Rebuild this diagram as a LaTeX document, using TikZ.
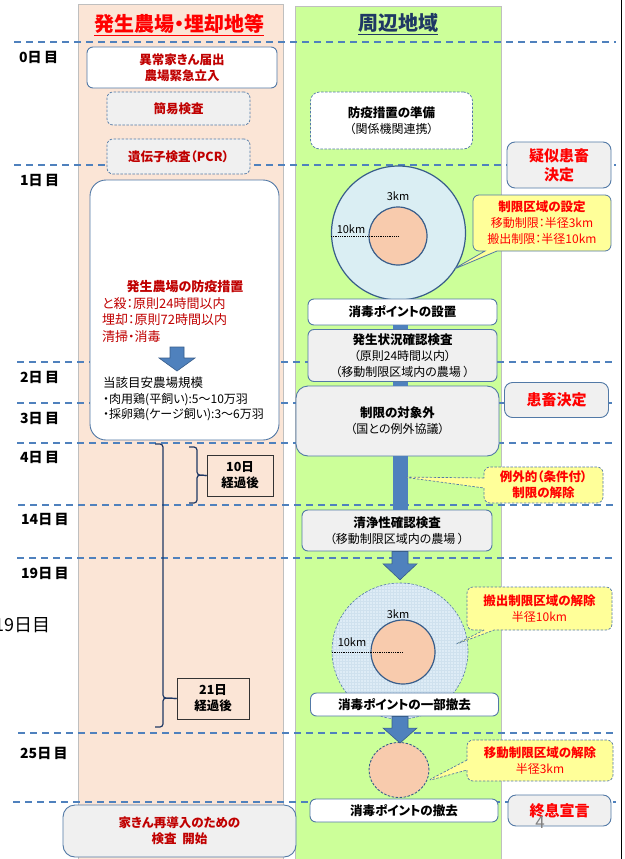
\documentclass[tikz,border=0pt]{standalone}
\usepackage{fontspec}
\setmainfont{Noto Sans CJK JP}[RawFeature={+palt}]
\usetikzlibrary{shapes.callouts,shapes.geometric,patterns,calc}
\definecolor{peach}{HTML}{FBE5D6}
\definecolor{lgreen}{HTML}{CCFF99}
\definecolor{dblue}{HTML}{4F81BD}
\definecolor{bordc}{HTML}{5279A6}
\definecolor{grayfill}{HTML}{F0F0F0}
\definecolor{redA}{HTML}{C00000}
\definecolor{redB}{HTML}{FF0000}
\definecolor{yel}{HTML}{FFFF99}
\definecolor{lblue}{HTML}{DAEEF3}
\definecolor{lblueB}{HTML}{DEECF6}
\definecolor{gridc}{HTML}{CFE1EE}
\definecolor{orng}{HTML}{F8CBAD}
\definecolor{navy}{HTML}{1F3864}
\definecolor{circb}{HTML}{385D8A}
\definecolor{colb}{HTML}{BFBFBF}
\newcommand\fsz[1]{\fontsize{#1}{16}\selectfont}
\begin{document}
\begin{tikzpicture}[x=1pt,y=-1pt,
  every node/.style={font=\fsz{12}},
  box/.style={draw=bordc,line width=0.9pt,rounded corners=6pt,inner sep=0pt,align=center},
  wbox/.style={box,fill=white},
  gbox/.style={box,fill=grayfill},
  dbox/.style={dash pattern=on 2.5pt off 1.5pt,line width=0.7pt},
  bt/.style={font=\bfseries\fsz{12.5}},
  status/.style={gbox,rounded corners=8pt,text=redB,font=\bfseries\fsz{15}},
  dayl/.style={anchor=west,inner sep=0pt,font=\bfseries\fsz{14}},
  dayline/.style={draw=dblue,line width=2pt,dash pattern=on 7pt off 5pt},
  bar/.style={draw=dblue,line width=15pt},
  fatarrow/.style={fill=dblue,draw=circb,line width=0.6pt},
  call/.style={rectangle callout,fill=yel,draw=bordc,line width=0.8pt,rounded corners=6pt,
    inner sep=0pt,align=center,text=redB,callout pointer width=12pt},
  brace/.style={draw=navy,line width=1.2pt,rounded corners=3pt},
  dayb/.style={draw=black!80,line width=0.8pt,fill=peach,inner sep=0pt,align=center,font=\bfseries\fsz{12.5}},
  ltxt/.style={anchor=west,inner sep=0pt}
]
\useasboundingbox (0,0) rectangle (624,859);
\fill[white] (0,0) rectangle (624,859);
% columns
\draw[colb,fill=peach,line width=0.8pt] (78,4) rectangle (283,862);
\draw[colb,fill=lgreen,line width=0.8pt] (295,6) rectangle (501,862);
\draw[black,line width=1pt] (621.7,0) -- (621.7,859);
% headers
\node[text=redB,font=\bfseries\fsz{20}] (hl) at (179,25) {\underline{発生農場・埋却地等}};
\node[text=navy,font=\bfseries\fsz{20}] (hr) at (398,24) {\underline{周辺地域}};
% day lines
\foreach \yy/\xs in {42/14,165/14,362/17,403/17,443/17,505/18,558/17,733/18,802/13}
  \draw[dayline] (\xs,\yy) -- (616,\yy);
% day labels
\node[dayl] (d0) at (19,57) {0日\,目};
\node[dayl] (d1) at (20,180) {1日\,目};
\node[dayl] (d2) at (20,377) {2日\,目};
\node[dayl] (d3) at (20,418) {3日\,目};
\node[dayl] (d4) at (20,457) {4日\,目};
\node[dayl] (d14) at (21,519) {14日\,目};
\node[dayl] (d19) at (21,573) {19日\,目};
\node[dayl] (d25) at (20,753) {25日\,目};
\node[anchor=east,inner sep=0pt,font=\fsz{18}] (stray) at (51,625) {19日目};
% left column
\node[wbox,minimum width=190,minimum height=41,text=redA,font=\bfseries\fsz{12.5}] (n0) at (182,67.5) {異常家きん届出\\農場緊急立入};
\node[gbox,dbox,minimum width=143,minimum height=33,text=redA,font=\bfseries\fsz{12.5}] (kani) at (178.5,108.5) {簡易検査};
\node[gbox,dbox,minimum width=143,minimum height=35,text=redA,font=\bfseries\fsz{12.5}] (pcr) at (178.5,156.5) {遺伝子検査（PCR）};
\node[wbox,rounded corners=16pt,minimum width=189,minimum height=260] (big) at (184.5,310) {};
\node[text=redA,font=\bfseries\fsz{13}] (bt1) at (185,287) {発生農場の防疫措置};
\node[ltxt,text=redA,font=\fsz{13}] (bl1) at (102,304) {と殺：原則24時間以内};
\node[ltxt,text=redA,font=\fsz{13}] (bl2) at (102,320) {埋却：原則72時間以内};
\node[ltxt,text=redA,font=\fsz{13}] (bl3) at (102,337) {清掃・消毒};
\path[fatarrow] (170,347) -- (170,358) -- (159,358) -- (177,371) -- (195,358) -- (184,358) -- (184,347) -- cycle;
\node[ltxt,font=\fsz{12.5}] (bk1) at (103,383) {当該目安農場規模};
\node[ltxt,font=\fsz{12}] (bk2) at (103,399.5) {・肉用鶏(平飼い):5～10万羽};
\node[ltxt,font=\fsz{12}] (bk3) at (103,414.5) {・採卵鶏(ケージ飼い):3～6万羽};
\node[dayb,minimum width=66,minimum height=41] (ten) at (240,475.5) {10日\\経過後};
\node[dayb,minimum width=72,minimum height=41] (tw) at (213,698.5) {21日\\経過後};
\draw[brace] (189,447) -- (197,447) -- (197,475) -- (ten.west);
\draw[brace] (ten.west) -- (197,475) -- (197,503) -- (189,503);
\draw[brace] (155,444) -- (163,444) -- (163,698) -- (tw.west);
\draw[brace] (tw.west) -- (163,698) -- (163,727) -- (155,727);
\node[gbox,rounded corners=12pt,minimum width=233,minimum height=52,text=redA,font=\bfseries\fsz{12.5}] (re) at (179.5,831) {家きん再導入のための\\検査\ \ 開始};
% right column
\coordinate (axis) at (400,0);
\node[wbox,dbox,draw=bordc,rounded corners=9pt,minimum width=162,minimum height=57] (prep) at (391.5,120.5) {{\bfseries\fsz{12.5}防疫措置の準備}\\（関係機関連携）};
\node[circle,fill=lblue,draw=circb,line width=1.2pt,minimum size=134,inner sep=0pt] (c1o) at (398.5,233) {};
\node[circle,fill=orng,draw=circb,line width=1.2pt,minimum size=58,inner sep=0pt] (c1i) at (398,236) {};
\draw[densely dotted,line width=0.8pt] (c1o.west |- c1i.center) -- (c1i.center);
\node[font=\fsz{11}] (k3a) at (398,196) {3km};
\node[font=\fsz{11}] (k10a) at (351,229) {10km};
\node[wbox,minimum width=189,minimum height=26,bt] (set) at (402.5,312) {消毒ポイントの設置};
\node[gbox,minimum width=189,minimum height=52] (surv) at (402.5,355.5) {{\bfseries\fsz{12.5}発生状況確認検査}\\（原則24時間以内）\\（移動制限区域内の農場\ ）};
\node[gbox,rounded corners=12pt,minimum width=203,minimum height=70] (outs) at (397.5,421) {{\bfseries\fsz{12.5}制限の対象外}\\（国との例外協議）};
\draw[bar] (set.south -| axis) -- (surv.north -| axis);
\draw[bar] (surv.south -| axis) -- (outs.north -| axis);
\node[gbox,minimum width=190,minimum height=41] (clean) at (397,530.5) {{\bfseries\fsz{12.5}清浄性確認検査}\\（移動制限区域内の農場\ ）};
\draw[bar] (outs.south -| axis) -- (clean.north -| axis);
\node[circle,fill=lblueB,minimum size=136,inner sep=0pt] (c2o) at (400,651) {};
\fill[pattern=grid,pattern color=gridc] (c2o.center) circle (68);
\draw[bordc,dbox,line width=0.6pt] (c2o.center) circle (68);
\node[circle,fill=orng,draw=circb,line width=1.2pt,minimum size=64,inner sep=0pt] (c2i) at (403,652) {};
\draw[densely dotted,line width=0.8pt] (c2o.west |- c2i.center) -- (c2i.center);
\node[font=\fsz{11}] (k3b) at (398,614) {3km};
\node[font=\fsz{11}] (k10b) at (352,642) {10km};
\path[fatarrow] let \p1=(clean.south -| axis), \p2=(c2o.north) in
  (\x1-8pt,\y1) -- (\x1-8pt,\y2+19pt) -- (\x1-17pt,\y2+19pt) -- (\x1,\y2+3pt) -- (\x1+17pt,\y2+19pt) -- (\x1+8pt,\y2+19pt) -- (\x1+8pt,\y1) -- cycle;
\node[wbox,minimum width=188,minimum height=23,bt] (part) at (404.5,704.5) {消毒ポイントの一部撤去};
\node[ellipse,fill=orng,draw=circb,dbox,line width=0.9pt,minimum width=60,minimum height=55,inner sep=0pt] (c3) at (399,770) {};
\path[fatarrow] let \p1=(part.south -| axis), \p2=(c3.north) in
  (\x1-8pt,\y1) -- (\x1-8pt,\y2+14pt) -- (\x1-17pt,\y2+14pt) -- (\x1,\y2-1pt) -- (\x1+17pt,\y2+14pt) -- (\x1+8pt,\y2+14pt) -- (\x1+8pt,\y1) -- cycle;
\node[wbox,minimum width=188,minimum height=23,bt] (rem) at (404,810.5) {消毒ポイントの撤去};
% status boxes
\node[status,minimum width=104,minimum height=46,font=\bfseries\fontsize{15}{19}\selectfont] (sus) at (559,165) {疑似患畜\\決定};
\node[status,minimum width=104,minimum height=35] (conf) at (556.5,400) {患畜決定};
\node[status,minimum width=103,minimum height=31] (fin) at (559.5,810.5) {終息宣言};
\node[text=black!50,font=\fsz{17}] (pg) at (540,822) {4};
% callouts
\node[call,callout absolute pointer={(452,270)},minimum width=138,minimum height=56] (co1) at (542,223) {{\bfseries\fsz{12.5}制限区域の設定}\\移動制限：半径3km\\搬出制限：半径10km};
\node[call,dbox,draw=bordc,callout absolute pointer={(403,477)},callout pointer width=10pt,minimum width=119,minimum height=36,font=\bfseries\fsz{12.5}] (co2) at (543.5,485) {例外的（条件付）\\制限の解除};
\node[call,dbox,draw=bordc,callout absolute pointer={(454,645)},callout pointer width=10pt,minimum width=145,minimum height=43] (co3) at (539.5,608.5) {{\bfseries\fsz{12.5}搬出制限区域の解除}\\半径10km};
\node[call,dbox,draw=bordc,callout absolute pointer={(427,781)},callout pointer width=10pt,minimum width=146,minimum height=41] (co4) at (540,760.5) {{\bfseries\fsz{12.5}移動制限区域の解除}\\半径3km};
\end{tikzpicture}
\end{document}
